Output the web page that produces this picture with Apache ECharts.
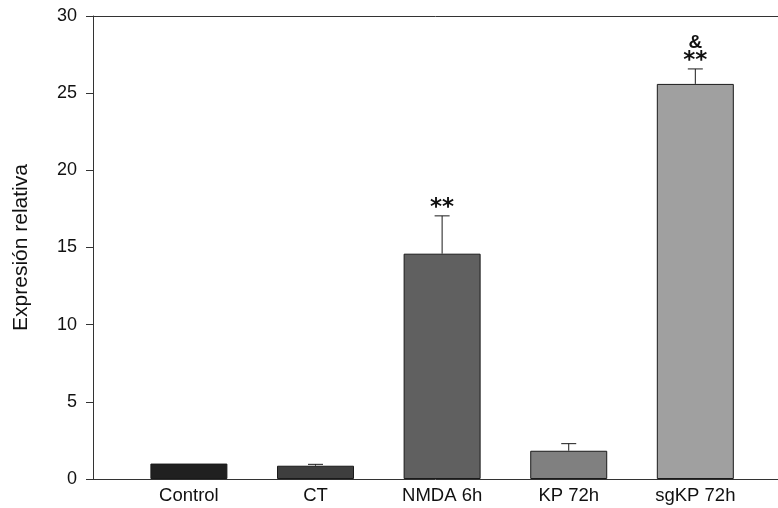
<!DOCTYPE html>
<html><head><meta charset="utf-8">
<script src="https://cdn.jsdelivr.net/npm/echarts@6/dist/echarts.min.js"></script>
<style>html,body{margin:0;padding:0;background:#fff}#c{width:778px;height:508px}</style>
</head><body><div id="c"></div>
<script>
const categories = ['Control', 'CT', 'NMDA 6h', 'KP 72h', 'sgKP 72h'];
const means = [1.0, 0.86, 14.6, 1.83, 25.6];
const errors = [0.0, 0.09, 2.45, 0.46, 0.97];
const marksLow = ['', '', '**', '', '**'];
const marksHigh = ['', '', '', '', '&'];
const yTicks = [0, 5, 10, 15, 20, 25, 30];
const barColors = ['#202020', '#3e3e3e', '#606060', '#808080', '#a0a0a0'];

const positions = categories.map((c, i) => i + 1);
const xMin = 0.2425, xMax = 5.653;
const txt = '#111';
const axisCol = '#333';

const chart = echarts.init(document.getElementById('c'), null, {renderer: 'canvas'});
chart.setOption({
  animation: false,
  backgroundColor: '#fff',
  grid: {left: 93, right: 0, top: 16, bottom: 29, containLabel: false},
  xAxis: [{
    type: 'value', min: xMin, max: xMax, position: 'bottom',
    axisLine: {show: true, onZero: false, lineStyle: {color: axisCol, width: 1}},
    axisTick: {show: false}, splitLine: {show: false},
    axisLabel: {
      customValues: positions,
      formatter: v => categories[Math.round(v) - 1] || '',
      fontFamily: 'Liberation Sans', fontSize: 18.5, color: txt, margin: 7
    }
  }, {
    type: 'value', min: xMin, max: xMax, position: 'top',
    axisLine: {show: true, onZero: false, lineStyle: {color: axisCol, width: 1}},
    axisTick: {show: false}, splitLine: {show: false}, axisLabel: {show: false}
  }],
  yAxis: {
    type: 'value', min: yTicks[0], max: yTicks[yTicks.length - 1], interval: 5,
    axisLine: {show: true, onZero: false, lineStyle: {color: axisCol, width: 1}},
    axisTick: {show: true, inside: false, length: 7, lineStyle: {color: axisCol}},
    splitLine: {show: false},
    axisLabel: {fontFamily: 'Liberation Sans', fontSize: 18, color: txt, margin: 16},
    name: 'Expresión relativa', nameLocation: 'middle', nameGap: 61, nameRotate: 90,
    nameTextStyle: {fontFamily: 'Liberation Sans', fontSize: 21, color: txt}
  },
  series: [{
    type: 'bar', barWidth: 77,
    data: positions.map((p, i) => ({value: [p, means[i]], itemStyle: {color: barColors[i], borderColor: '#1a1a1a', borderWidth: 1}})),
    z: 2
  }, {
    type: 'custom', z: 5,
    data: positions.map((p, i) => [p, means[i], errors[i]]),
    renderItem: function (params, api) {
      const x = api.value(0), m = api.value(1), e = api.value(2);
      const base = api.coord([x, m]);
      const top = api.coord([x, m + e]);
      const ch = [];
      const ls = {stroke: '#1a1a1a', lineWidth: 1};
      if (e > 0) {
        ch.push({type: 'line', shape: {x1: base[0], y1: base[1], x2: top[0], y2: top[1]}, style: ls});
        ch.push({type: 'line', shape: {x1: top[0] - 7.5, y1: top[1], x2: top[0] + 7.5, y2: top[1]}, style: ls});
      }
      const i = params.dataIndex;
      if (marksLow[i]) {
        ch.push({type: 'text', style: {text: marksLow[i], x: top[0], y: top[1] - 8, align: 'center', verticalAlign: 'middle',
          font: 'bold 23px "DejaVu Sans"', fill: txt}});
      }
      if (marksHigh[i]) {
        ch.push({type: 'text', style: {text: marksHigh[i], x: top[0], y: top[1] - 26, align: 'center', verticalAlign: 'middle',
          font: 'bold 19px "Liberation Sans"', fill: txt}});
      }
      return {type: 'group', children: ch};
    }
  }]
});
</script></body></html>
